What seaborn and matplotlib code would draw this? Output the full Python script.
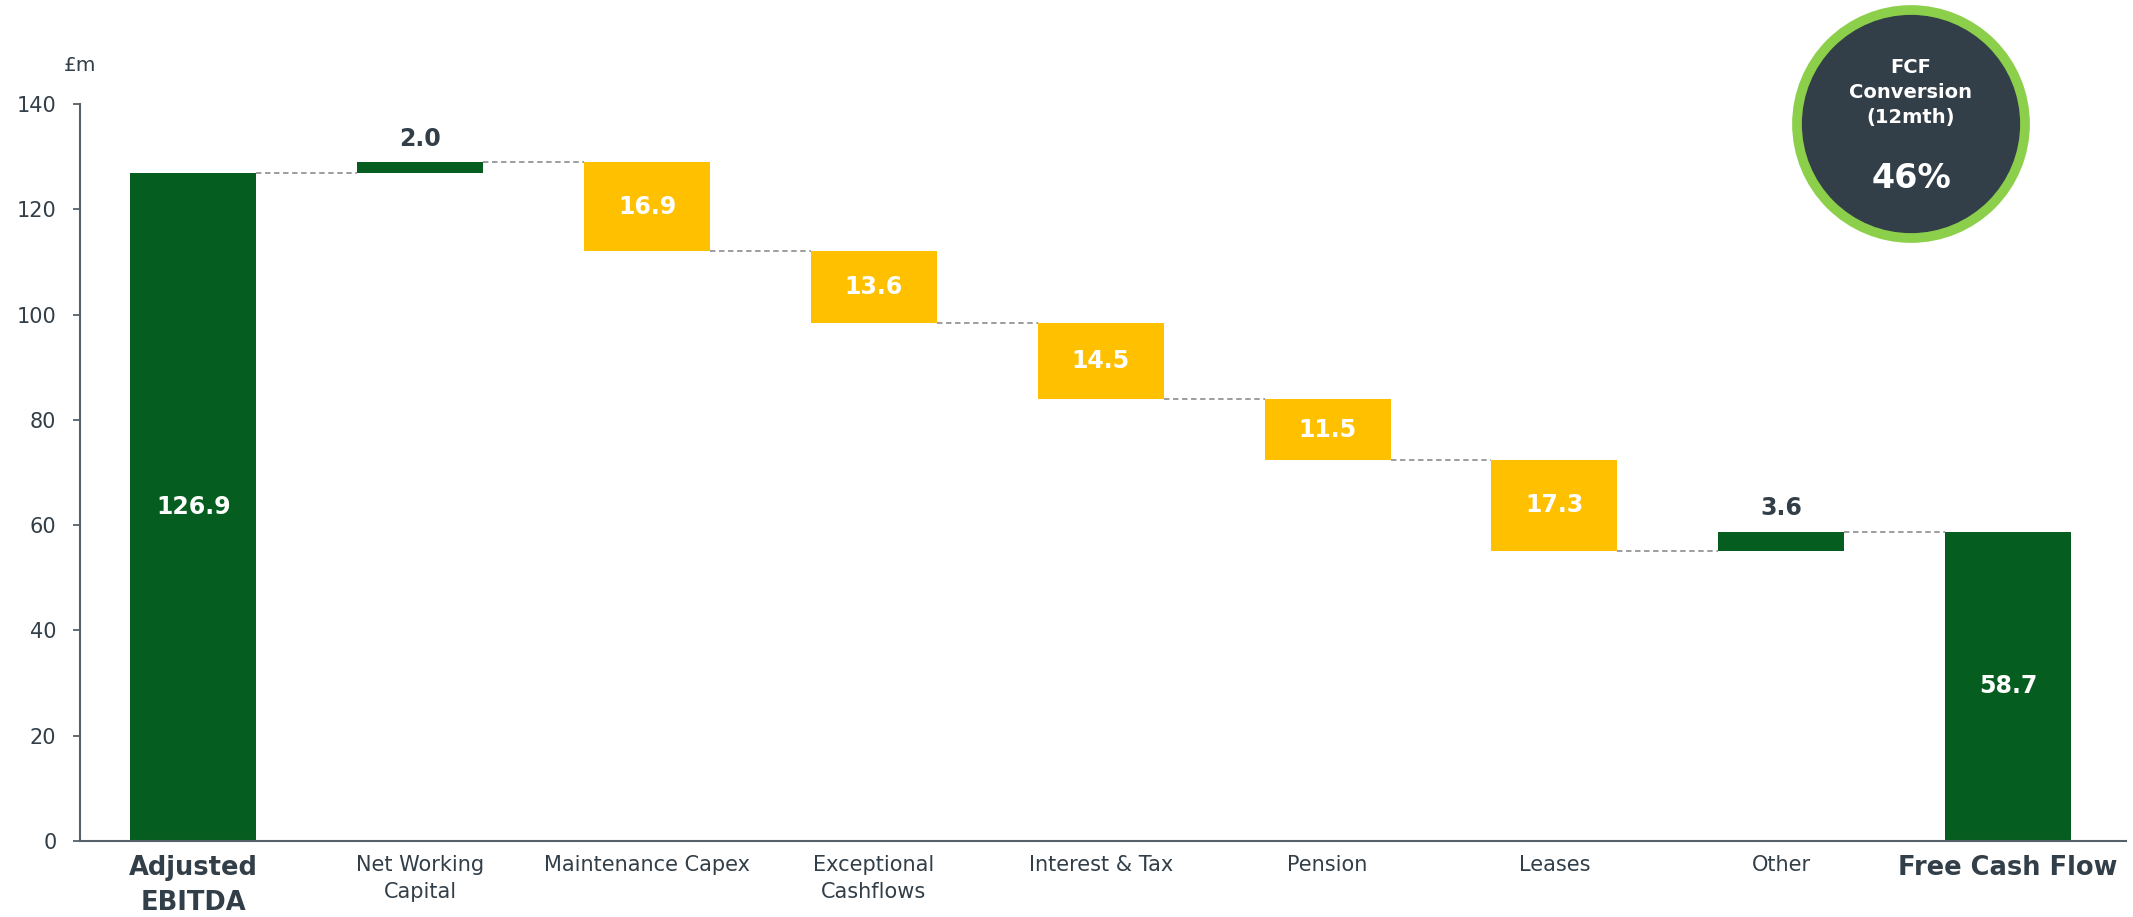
import numpy as np
import pandas as pd
import matplotlib
matplotlib.use("Agg")
import matplotlib.pyplot as plt
from matplotlib.patches import Circle
import seaborn as sns

# ---- data ----
categories = ["Adjusted\nEBITDA", "Net Working\nCapital", "Maintenance Capex",
              "Exceptional\nCashflows", "Interest & Tax", "Pension", "Leases",
              "Other", "Free Cash Flow"]
changes = [126.9, 2.0, -16.9, -13.6, -14.5, -11.5, -17.3, 3.6, 58.7]
kinds = ["total", "inc", "dec", "dec", "dec", "dec", "dec", "inc", "total"]
value_labels = ["126.9", "2.0", "16.9", "13.6", "14.5", "11.5", "17.3", "3.6", "58.7"]
kpi_title = "FCF\nConversion\n(12mth)"
kpi_value = "46%"
unit_label = "£m"
yticks = [0, 20, 40, 60, 80, 100, 120, 140]

# ---- styles ----
GREEN = "#055E1F"
YELLOW = "#FFC000"
TEXT = "#323E48"
SPINE = "#56616B"
RING = "#8CCF4B"
DISC = "#323E48"

sns.set_theme(style="white")
plt.rcParams["font.family"] = ["DejaVu Sans"]

# waterfall geometry
bottoms, heights, ends = [], [], []
running = 0.0
for ch, k in zip(changes, kinds):
    if k == "total":
        bottoms.append(0.0)
        heights.append(ch)
        running = ch
    else:
        new = running + ch
        bottoms.append(min(running, new))
        heights.append(abs(ch))
        running = new
    ends.append(running)

df = pd.DataFrame({"cat": categories, "height": heights})

fig = plt.figure(figsize=(21.33, 9.17), dpi=100)
ax = fig.add_axes([80 / 2133, 76 / 917, (2126 - 80) / 2133, (840 - 103) / 917])

W = 0.556
sns.barplot(data=df, x="cat", y="height", order=categories, bottom=bottoms,
            width=W, errorbar=None, ax=ax, linewidth=0, saturation=1, color=GREEN)

for p, k in zip(ax.patches, kinds):
    p.set_facecolor(YELLOW if k == "dec" else GREEN)
    p.set_edgecolor("none")

# connectors
for i in range(len(categories) - 1):
    ax.plot([i + W / 2, i + 1 - W / 2], [ends[i], ends[i]], color="#959595",
            lw=1.3, ls=(0, (3, 2)), zorder=1)

# value labels
for i, (k, lab) in enumerate(zip(kinds, value_labels)):
    if k == "inc":
        ax.annotate(lab, (i, bottoms[i] + heights[i]), xytext=(0, 17),
                    textcoords="offset points", ha="center", va="center",
                    fontsize=17, fontweight="bold", color=TEXT)
    else:
        ax.text(i, bottoms[i] + heights[i] / 2, lab, ha="center", va="center",
                fontsize=17, fontweight="bold", color="white")

ax.set_xlim(-0.5, 8.52)
ax.set_ylim(0, 140)
ax.set_yticks(yticks)
ax.set_yticklabels([str(v) for v in yticks])
ax.set_xlabel("")
ax.set_ylabel("")
for s in ["top", "right"]:
    ax.spines[s].set_visible(False)
for s in ["left", "bottom"]:
    ax.spines[s].set_color(SPINE)
    ax.spines[s].set_linewidth(1.5)
ax.tick_params(axis="y", which="major", direction="out", length=5, width=1.3,
               color=SPINE, labelsize=15, labelcolor=TEXT, pad=12, left=True)
ax.tick_params(axis="x", length=0, labelsize=15, labelcolor=TEXT, pad=10)
for i, t in enumerate(ax.get_xticklabels()):
    t.set_multialignment("center")
    t.set_linespacing(1.45)
    if kinds[i] == "total":
        t.set_fontweight("bold")
        t.set_fontsize(18.5)

ax.text(0.0, 1.052, unit_label, transform=ax.transAxes, ha="center", va="center",
        fontsize=14.5, color=TEXT)

# KPI circle
cx, cy, r = 1911, 124, 120
cax = fig.add_axes([(cx - r) / 2133, (917 - cy - r) / 917, 2 * r / 2133, 2 * r / 917])
cax.set_xlim(-1, 1)
cax.set_ylim(-1, 1)
cax.axis("off")
cax.add_patch(Circle((0, 0), 0.95, facecolor=DISC, edgecolor=RING, linewidth=7))
for yy, line in zip([0.47, 0.26, 0.05], kpi_title.split("\n")):
    cax.text(0, yy, line, ha="center", va="center", fontsize=14,
             fontweight="bold", color="white")
cax.text(0, -0.45, kpi_value, ha="center", va="center", fontsize=24,
         fontweight="bold", color="white")

fig.savefig("out.png", dpi=100)
